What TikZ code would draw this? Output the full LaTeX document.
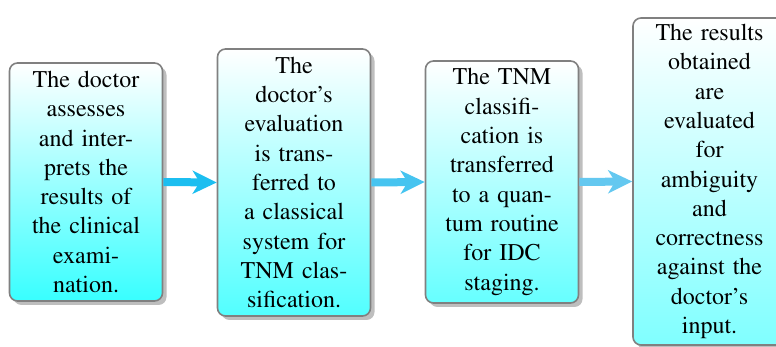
\documentclass[tikz,border=0pt]{standalone}
\usepackage[T1]{fontenc}
\usepackage{times}
\usetikzlibrary{shadows,arrows.meta}

\definecolor{framegray}{RGB}{128,128,128}
\definecolor{shadowgray}{RGB}{190,190,190}
\definecolor{arrowA}{RGB}{28,190,240}
\definecolor{arrowB}{RGB}{70,196,240}
\definecolor{arrowC}{RGB}{100,200,240}

\tikzset{
  stagebox/.style={
    draw=framegray, line width=1.6pt, rounded corners=8pt,
    top color=white, bottom color=#1,
    minimum width=153pt, text width=146pt, align=center,
    inner sep=0pt, font=\rmfamily\fontsize{24}{29.3}\selectfont,
    drop shadow={shadow xshift=4pt, shadow yshift=-4pt, fill=shadowgray, opacity=1}
  },
  flowarrow/.style={
    draw=#1, line width=8pt,
    -{Stealth[length=24pt, width=23pt, inset=7pt, fill=#1]}
  }
}

\begin{document}
\begin{tikzpicture}[x=1pt, y=1pt]
  \useasboundingbox (0,0) rectangle (776,347);

  \node[stagebox=cyan!78, minimum height=238pt] (s1) at (86,165)
    {The doctor\\assesses\\and inter-\\prets the\\results of\\the clinical\\exami-\\nation.};
  \node[stagebox=cyan!68, minimum height=267pt] (s2) at (294,164.5)
    {The\\doctor's\\evaluation\\is trans-\\ferred to\\a classical\\system for\\TNM clas-\\sification.};
  \node[stagebox=cyan!60, minimum height=242pt] (s3) at (502,165)
    {The TNM\\classifi-\\cation is\\transferred\\to a quan-\\tum routine\\for IDC\\staging.};
  \node[stagebox=cyan!50, minimum height=327pt] (s4) at (709.5,165.5)
    {The results\\obtained\\are\\evaluated\\for\\ambiguity\\and\\correctness\\against the\\doctor's\\input.};

  \draw[flowarrow=arrowA] (s1.east) -- (s2.west);
  \draw[flowarrow=arrowB] (s2.east) -- (s3.west);
  \draw[flowarrow=arrowC] (s3.east) -- (s4.west);
\end{tikzpicture}
\end{document}
